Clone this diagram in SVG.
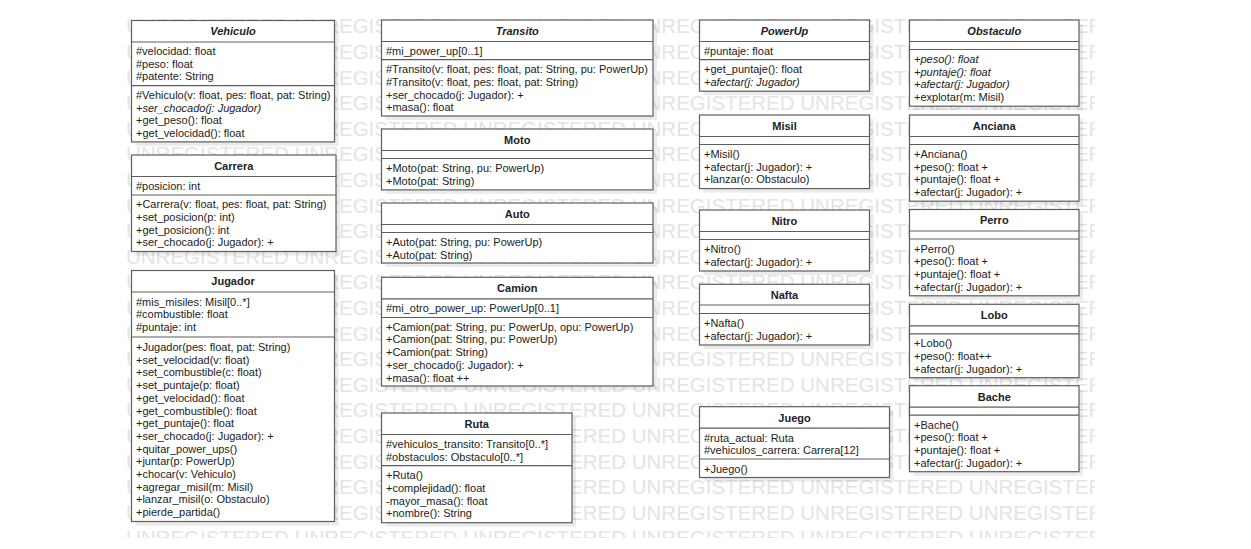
<svg xmlns="http://www.w3.org/2000/svg" width="1251" height="549" viewBox="0 0 1251 549">
<style>
.wm{font-family:"Liberation Sans",Arial,sans-serif;font-size:20.5px;fill:#e4e4e4}
.sh{fill:#000;fill-opacity:.08}
.b{fill:#fff;stroke:#5e5e5e;stroke-width:1.2}
.l{stroke:#5e5e5e;stroke-width:1.2}
text.t,text.i,text.h,text.hi{font-family:"Liberation Sans",Arial,sans-serif;font-size:11px;fill:#222}
.i{font-style:italic}
.h{font-weight:bold;text-anchor:middle}
.hi{font-weight:bold;font-style:italic;text-anchor:middle}
</style>
<defs>
<clipPath id="wmclip"><rect x="122" y="14" width="973" height="524"/></clipPath>
</defs>
<rect width="1251" height="549" fill="#fff"/>
<g id="watermark" clip-path="url(#wmclip)" class="wm">
<text x="126" y="33.3">UNREGISTERED UNREGISTERED UNREGISTERED UNREGISTERED UNREGISTERED UNREGISTERED</text>
<text x="126" y="58.9">UNREGISTERED UNREGISTERED UNREGISTERED UNREGISTERED UNREGISTERED UNREGISTERED</text>
<text x="126" y="84.5">UNREGISTERED UNREGISTERED UNREGISTERED UNREGISTERED UNREGISTERED UNREGISTERED</text>
<text x="126" y="110.1">UNREGISTERED UNREGISTERED UNREGISTERED UNREGISTERED UNREGISTERED UNREGISTERED</text>
<text x="126" y="135.7">UNREGISTERED UNREGISTERED UNREGISTERED UNREGISTERED UNREGISTERED UNREGISTERED</text>
<text x="126" y="161.3">UNREGISTERED UNREGISTERED UNREGISTERED UNREGISTERED UNREGISTERED UNREGISTERED</text>
<text x="126" y="186.9">UNREGISTERED UNREGISTERED UNREGISTERED UNREGISTERED UNREGISTERED UNREGISTERED</text>
<text x="126" y="212.5">UNREGISTERED UNREGISTERED UNREGISTERED UNREGISTERED UNREGISTERED UNREGISTERED</text>
<text x="126" y="238.1">UNREGISTERED UNREGISTERED UNREGISTERED UNREGISTERED UNREGISTERED UNREGISTERED</text>
<text x="126" y="263.7">UNREGISTERED UNREGISTERED UNREGISTERED UNREGISTERED UNREGISTERED UNREGISTERED</text>
<text x="126" y="289.3">UNREGISTERED UNREGISTERED UNREGISTERED UNREGISTERED UNREGISTERED UNREGISTERED</text>
<text x="126" y="314.9">UNREGISTERED UNREGISTERED UNREGISTERED UNREGISTERED UNREGISTERED UNREGISTERED</text>
<text x="126" y="340.5">UNREGISTERED UNREGISTERED UNREGISTERED UNREGISTERED UNREGISTERED UNREGISTERED</text>
<text x="126" y="366.1">UNREGISTERED UNREGISTERED UNREGISTERED UNREGISTERED UNREGISTERED UNREGISTERED</text>
<text x="126" y="391.7">UNREGISTERED UNREGISTERED UNREGISTERED UNREGISTERED UNREGISTERED UNREGISTERED</text>
<text x="126" y="417.3">UNREGISTERED UNREGISTERED UNREGISTERED UNREGISTERED UNREGISTERED UNREGISTERED</text>
<text x="126" y="442.9">UNREGISTERED UNREGISTERED UNREGISTERED UNREGISTERED UNREGISTERED UNREGISTERED</text>
<text x="126" y="468.5">UNREGISTERED UNREGISTERED UNREGISTERED UNREGISTERED UNREGISTERED UNREGISTERED</text>
<text x="126" y="494.1">UNREGISTERED UNREGISTERED UNREGISTERED UNREGISTERED UNREGISTERED UNREGISTERED</text>
<text x="126" y="519.7">UNREGISTERED UNREGISTERED UNREGISTERED UNREGISTERED UNREGISTERED UNREGISTERED</text>
<text x="126" y="545.3">UNREGISTERED UNREGISTERED UNREGISTERED UNREGISTERED UNREGISTERED UNREGISTERED</text>
</g>
<g id="connectors"/>

<g id="Vehiculo">
<rect class="sh" x="135.5" y="24.5" width="203" height="121.4"/>
<rect class="b" x="131.5" y="20.5" width="203" height="121.4"/>
<line class="l" x1="131.5" y1="42" x2="334.5" y2="42"/>
<line class="l" x1="131.5" y1="85.6" x2="334.5" y2="85.6"/>
<text class="hi" x="233" y="35.3">Vehiculo</text>
<text class="t" x="136" y="55">#velocidad: float</text>
<text class="t" x="136" y="67.7">#peso: float</text>
<text class="t" x="136" y="80.4">#patente: String</text>
<text class="t" x="136" y="98.8">#Vehiculo(v: float, pes: float, pat: String)</text>
<text class="i" x="136" y="111.5">+ser_chocado(j: Jugador)</text>
<text class="t" x="136" y="124.2">+get_peso(): float</text>
<text class="t" x="136" y="136.9">+get_velocidad(): float</text>
</g>

<g id="Carrera">
<rect class="sh" x="135.5" y="159" width="204.5" height="96.5"/>
<rect class="b" x="131.5" y="155" width="204.5" height="96.5"/>
<line class="l" x1="131.5" y1="176.5" x2="336" y2="176.5"/>
<line class="l" x1="131.5" y1="195" x2="336" y2="195"/>
<text class="h" x="233.75" y="169.8">Carrera</text>
<text class="t" x="136" y="189.5">#posicion: int</text>
<text class="t" x="136" y="208.2">+Carrera(v: float, pes: float, pat: String)</text>
<text class="t" x="136" y="220.9">+set_posicion(p: int)</text>
<text class="t" x="136" y="233.6">+get_posicion(): int</text>
<text class="t" x="136" y="246.3">+ser_chocado(j: Jugador): +</text>
</g>

<g id="Jugador">
<rect class="sh" x="135.5" y="274.5" width="203" height="251"/>
<rect class="b" x="131.5" y="270.5" width="203" height="251"/>
<line class="l" x1="131.5" y1="292" x2="334.5" y2="292"/>
<line class="l" x1="131.5" y1="337" x2="334.5" y2="337"/>
<text class="h" x="233" y="285.3">Jugador</text>
<text class="t" x="136" y="305.5">#mis_misiles: Misil[0..*]</text>
<text class="t" x="136" y="318.2">#combustible: float</text>
<text class="t" x="136" y="330.9">#puntaje: int</text>
<text class="t" x="136" y="351">+Jugador(pes: float, pat: String)</text>
<text class="t" x="136" y="363.7">+set_velocidad(v: float)</text>
<text class="t" x="136" y="376.4">+set_combustible(c: float)</text>
<text class="t" x="136" y="389.1">+set_puntaje(p: float)</text>
<text class="t" x="136" y="401.8">+get_velocidad(): float</text>
<text class="t" x="136" y="414.5">+get_combustible(): float</text>
<text class="t" x="136" y="427.2">+get_puntaje(): float</text>
<text class="t" x="136" y="439.9">+ser_chocado(j: Jugador): +</text>
<text class="t" x="136" y="452.6">+quitar_power_ups()</text>
<text class="t" x="136" y="465.3">+juntar(p: PowerUp)</text>
<text class="t" x="136" y="478">+chocar(v: Vehiculo)</text>
<text class="t" x="136" y="490.7">+agregar_misil(m: Misil)</text>
<text class="t" x="136" y="503.4">+lanzar_misil(o: Obstaculo)</text>
<text class="t" x="136" y="516.1">+pierde_partida()</text>
</g>

<g id="Transito">
<rect class="sh" x="385.5" y="24" width="271.5" height="96"/>
<rect class="b" x="381.5" y="20" width="271.5" height="96"/>
<line class="l" x1="381.5" y1="41.5" x2="653" y2="41.5"/>
<line class="l" x1="381.5" y1="59.7" x2="653" y2="59.7"/>
<text class="hi" x="517.25" y="34.8">Transito</text>
<text class="t" x="386" y="55">#mi_power_up[0..1]</text>
<text class="t" x="386" y="73.2">#Transito(v: float, pes: float, pat: String, pu: PowerUp)</text>
<text class="t" x="386" y="85.9">#Transito(v: float, pes: float, pat: String)</text>
<text class="t" x="386" y="98.6">+ser_chocado(j: Jugador): +</text>
<text class="t" x="386" y="111.3">+masa(): float</text>
</g>

<g id="Moto">
<rect class="sh" x="385.5" y="133" width="271.5" height="60.9"/>
<rect class="b" x="381.5" y="129" width="271.5" height="60.9"/>
<line class="l" x1="381.5" y1="150.5" x2="653" y2="150.5"/>
<line class="l" x1="381.5" y1="158.5" x2="653" y2="158.5"/>
<text class="h" x="517.25" y="143.8">Moto</text>
<text class="t" x="386" y="172">+Moto(pat: String, pu: PowerUp)</text>
<text class="t" x="386" y="184.7">+Moto(pat: String)</text>
</g>

<g id="Auto">
<rect class="sh" x="385.5" y="207" width="271.5" height="60"/>
<rect class="b" x="381.5" y="203" width="271.5" height="60"/>
<line class="l" x1="381.5" y1="224.5" x2="653" y2="224.5"/>
<line class="l" x1="381.5" y1="232.5" x2="653" y2="232.5"/>
<text class="h" x="517.25" y="217.8">Auto</text>
<text class="t" x="386" y="245.8">+Auto(pat: String, pu: PowerUp)</text>
<text class="t" x="386" y="258.5">+Auto(pat: String)</text>
</g>

<g id="Camion">
<rect class="sh" x="385.5" y="281.3" width="271.5" height="108.7"/>
<rect class="b" x="381.5" y="277.3" width="271.5" height="108.7"/>
<line class="l" x1="381.5" y1="298.8" x2="653" y2="298.8"/>
<line class="l" x1="381.5" y1="317.5" x2="653" y2="317.5"/>
<text class="h" x="517.25" y="292.1">Camion</text>
<text class="t" x="386" y="312.3">#mi_otro_power_up: PowerUp[0..1]</text>
<text class="t" x="386" y="330.7">+Camion(pat: String, pu: PowerUp, opu: PowerUp)</text>
<text class="t" x="386" y="343.4">+Camion(pat: String, pu: PowerUp)</text>
<text class="t" x="386" y="356.1">+Camion(pat: String)</text>
<text class="t" x="386" y="368.8">+ser_chocado(j: Jugador): +</text>
<text class="t" x="386" y="381.5">+masa(): float ++</text>
</g>

<g id="Ruta">
<rect class="sh" x="385.5" y="417" width="190.5" height="109.7"/>
<rect class="b" x="381.5" y="413" width="190.5" height="109.7"/>
<line class="l" x1="381.5" y1="434.5" x2="572" y2="434.5"/>
<line class="l" x1="381.5" y1="465.6" x2="572" y2="465.6"/>
<text class="h" x="476.75" y="427.8">Ruta</text>
<text class="t" x="386" y="448">#vehiculos_transito: Transito[0..*]</text>
<text class="t" x="386" y="460.7">#obstaculos: Obstaculo[0..*]</text>
<text class="t" x="386" y="479.1">+Ruta()</text>
<text class="t" x="386" y="491.8">+complejidad(): float</text>
<text class="t" x="386" y="504.5">-mayor_masa(): float</text>
<text class="t" x="386" y="517.2">+nombre(): String</text>
</g>

<g id="PowerUp">
<rect class="sh" x="703.5" y="24" width="170" height="71.2"/>
<rect class="b" x="699.5" y="20" width="170" height="71.2"/>
<line class="l" x1="699.5" y1="41.5" x2="869.5" y2="41.5"/>
<line class="l" x1="699.5" y1="59.7" x2="869.5" y2="59.7"/>
<text class="hi" x="784.5" y="34.8">PowerUp</text>
<text class="t" x="704" y="55">#puntaje: float</text>
<text class="t" x="704" y="73.2">+get_puntaje(): float</text>
<text class="i" x="704" y="85.9">+afectar(j: Jugador)</text>
</g>

<g id="Misil">
<rect class="sh" x="703.5" y="119" width="170" height="73.6"/>
<rect class="b" x="699.5" y="115" width="170" height="73.6"/>
<line class="l" x1="699.5" y1="136.5" x2="869.5" y2="136.5"/>
<line class="l" x1="699.5" y1="144.5" x2="869.5" y2="144.5"/>
<text class="h" x="784.5" y="129.8">Misil</text>
<text class="t" x="704" y="158">+Misil()</text>
<text class="t" x="704" y="170.7">+afectar(j: Jugador): +</text>
<text class="t" x="704" y="183.4">+lanzar(o: Obstaculo)</text>
</g>

<g id="Nitro">
<rect class="sh" x="703.5" y="214" width="170" height="61"/>
<rect class="b" x="699.5" y="210" width="170" height="61"/>
<line class="l" x1="699.5" y1="231.5" x2="869.5" y2="231.5"/>
<line class="l" x1="699.5" y1="239.5" x2="869.5" y2="239.5"/>
<text class="h" x="784.5" y="224.8">Nitro</text>
<text class="t" x="704" y="253">+Nitro()</text>
<text class="t" x="704" y="265.7">+afectar(j: Jugador): +</text>
</g>

<g id="Nafta">
<rect class="sh" x="703.5" y="288.3" width="170" height="60.7"/>
<rect class="b" x="699.5" y="284.3" width="170" height="60.7"/>
<line class="l" x1="699.5" y1="305" x2="869.5" y2="305"/>
<line class="l" x1="699.5" y1="313.5" x2="869.5" y2="313.5"/>
<text class="h" x="784.5" y="298.6">Nafta</text>
<text class="t" x="704" y="327">+Nafta()</text>
<text class="t" x="704" y="339.7">+afectar(j: Jugador): +</text>
</g>

<g id="Juego">
<rect class="sh" x="703.5" y="410.7" width="190" height="70.8"/>
<rect class="b" x="699.5" y="406.7" width="190" height="70.8"/>
<line class="l" x1="699.5" y1="428.2" x2="889.5" y2="428.2"/>
<line class="l" x1="699.5" y1="459" x2="889.5" y2="459"/>
<text class="h" x="794.5" y="421.5">Juego</text>
<text class="t" x="704" y="441.5">#ruta_actual: Ruta</text>
<text class="t" x="704" y="454.2">#vehiculos_carrera: Carrera[12]</text>
<text class="t" x="704" y="472.6">+Juego()</text>
</g>

<g id="Obstaculo">
<rect class="sh" x="913.5" y="24" width="169.5" height="86.2"/>
<rect class="b" x="909.5" y="20" width="169.5" height="86.2"/>
<line class="l" x1="909.5" y1="41.5" x2="1079" y2="41.5"/>
<line class="l" x1="909.5" y1="49.5" x2="1079" y2="49.5"/>
<text class="hi" x="994.25" y="34.8">Obstaculo</text>
<text class="i" x="914" y="63">+peso(): float</text>
<text class="i" x="914" y="75.7">+puntaje(): float</text>
<text class="i" x="914" y="88.4">+afectar(j: Jugador)</text>
<text class="t" x="914" y="101.1">+explotar(m: Misil)</text>
</g>

<g id="Anciana">
<rect class="sh" x="913.5" y="119" width="169.5" height="86.2"/>
<rect class="b" x="909.5" y="115" width="169.5" height="86.2"/>
<line class="l" x1="909.5" y1="136.5" x2="1079" y2="136.5"/>
<line class="l" x1="909.5" y1="144.5" x2="1079" y2="144.5"/>
<text class="h" x="994.25" y="129.8">Anciana</text>
<text class="t" x="914" y="158">+Anciana()</text>
<text class="t" x="914" y="170.7">+peso(): float +</text>
<text class="t" x="914" y="183.4">+puntaje(): float +</text>
<text class="t" x="914" y="196.1">+afectar(j: Jugador): +</text>
</g>

<g id="Perro">
<rect class="sh" x="913.5" y="213.5" width="169.5" height="86.3"/>
<rect class="b" x="909.5" y="209.5" width="169.5" height="86.3"/>
<line class="l" x1="909.5" y1="231" x2="1079" y2="231"/>
<line class="l" x1="909.5" y1="239" x2="1079" y2="239"/>
<text class="h" x="994.25" y="224.3">Perro</text>
<text class="t" x="914" y="252.5">+Perro()</text>
<text class="t" x="914" y="265.2">+peso(): float +</text>
<text class="t" x="914" y="277.9">+puntaje(): float +</text>
<text class="t" x="914" y="290.6">+afectar(j: Jugador): +</text>
</g>

<g id="Lobo">
<rect class="sh" x="913.5" y="308.3" width="169.5" height="73.4"/>
<rect class="b" x="909.5" y="304.3" width="169.5" height="73.4"/>
<line class="l" x1="909.5" y1="325.8" x2="1079" y2="325.8"/>
<line class="l" x1="909.5" y1="333.8" x2="1079" y2="333.8"/>
<text class="h" x="994.25" y="319.1">Lobo</text>
<text class="t" x="914" y="347.3">+Lobo()</text>
<text class="t" x="914" y="360">+peso(): float++</text>
<text class="t" x="914" y="372.7">+afectar(j: Jugador): +</text>
</g>

<g id="Bache">
<rect class="sh" x="913.5" y="389.7" width="169.5" height="86"/>
<rect class="b" x="909.5" y="385.7" width="169.5" height="86"/>
<line class="l" x1="909.5" y1="407.2" x2="1079" y2="407.2"/>
<line class="l" x1="909.5" y1="415.2" x2="1079" y2="415.2"/>
<text class="h" x="994.25" y="400.5">Bache</text>
<text class="t" x="914" y="428.7">+Bache()</text>
<text class="t" x="914" y="441.4">+peso(): float +</text>
<text class="t" x="914" y="454.1">+puntaje(): float +</text>
<text class="t" x="914" y="466.8">+afectar(j: Jugador): +</text>
</g>
</svg>
